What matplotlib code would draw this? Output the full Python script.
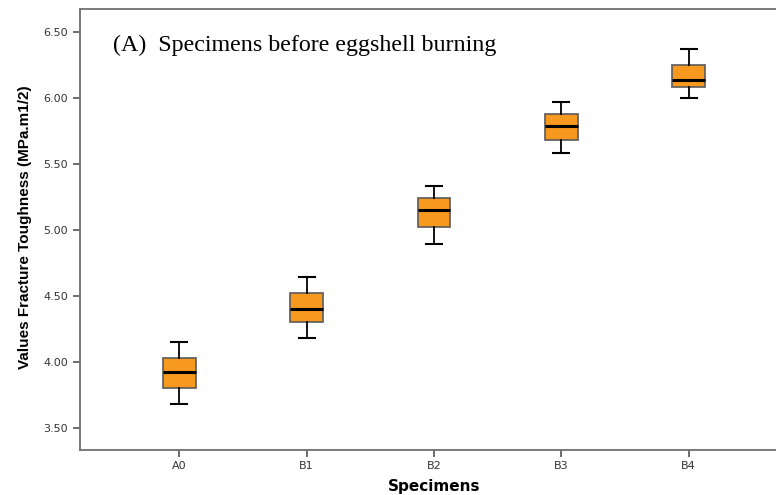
import matplotlib.pyplot as plt

# five-number summaries per specimen group (whisker low, Q1, median, Q3, whisker high)
specimens = ["A0", "B1", "B2", "B3", "B4"]
whisker_low = [3.68, 4.18, 4.89, 5.58, 6.00]
q1 = [3.80, 4.30, 5.02, 5.68, 6.08]
median = [3.92, 4.40, 5.15, 5.79, 6.14]
q3 = [4.03, 4.52, 5.24, 5.88, 6.25]
whisker_high = [4.15, 4.64, 5.33, 5.97, 6.37]
yticks = [3.50, 4.00, 4.50, 5.00, 5.50, 6.00, 6.50]

stats = []
for i, name in enumerate(specimens):
    stats.append({
        "label": name,
        "whislo": whisker_low[i],
        "q1": q1[i],
        "med": median[i],
        "q3": q3[i],
        "whishi": whisker_high[i],
        "fliers": [],
    })

fig = plt.figure(figsize=(7.76, 4.95), dpi=100)
ax = fig.add_axes([80 / 776, 45 / 495, 708 / 776, 441 / 495])

ax.bxp(stats, positions=range(len(specimens)), widths=0.257, capwidths=0.126,
       patch_artist=True, showfliers=False,
       boxprops=dict(facecolor="#f7981f", edgecolor="#5a5a5a", linewidth=1.2),
       medianprops=dict(color="black", linewidth=2.2),
       whiskerprops=dict(color="black", linewidth=1.3),
       capprops=dict(color="black", linewidth=1.5))

ax.set_xlim(-0.78, 4.78)
ax.set_ylim(3.33, 6.675)
ax.set_yticks(yticks)
ax.set_yticklabels([f"{v:.2f}" for v in yticks])

for side in ["left", "bottom", "top"]:
    ax.spines[side].set_color("#6e6e6e")
    ax.spines[side].set_linewidth(1.3)
ax.spines["right"].set_visible(False)

ax.tick_params(axis="both", direction="out", length=5, width=1.1, color="#444444",
               labelsize=8, labelcolor="#333333")
ax.tick_params(axis="x", pad=3)

ax.set_xlabel("Specimens", fontsize=11, fontweight="bold", family="DejaVu Sans")
ax.xaxis.set_label_coords(0.5, -0.066)
ax.set_ylabel("Values Fracture Toughness (MPa.m1/2)", fontsize=11, fontweight="bold",
              family="Liberation Sans")
ax.yaxis.set_label_coords(-0.068, 0.505)

ax.text(0.046, 0.918, "(A)  Specimens before eggshell burning", transform=ax.transAxes,
        fontsize=17.3, family="Liberation Serif", va="center", ha="left")

for lbl in ax.get_xticklabels() + ax.get_yticklabels():
    lbl.set_family("DejaVu Sans")

fig.savefig("out.png", dpi=100)
